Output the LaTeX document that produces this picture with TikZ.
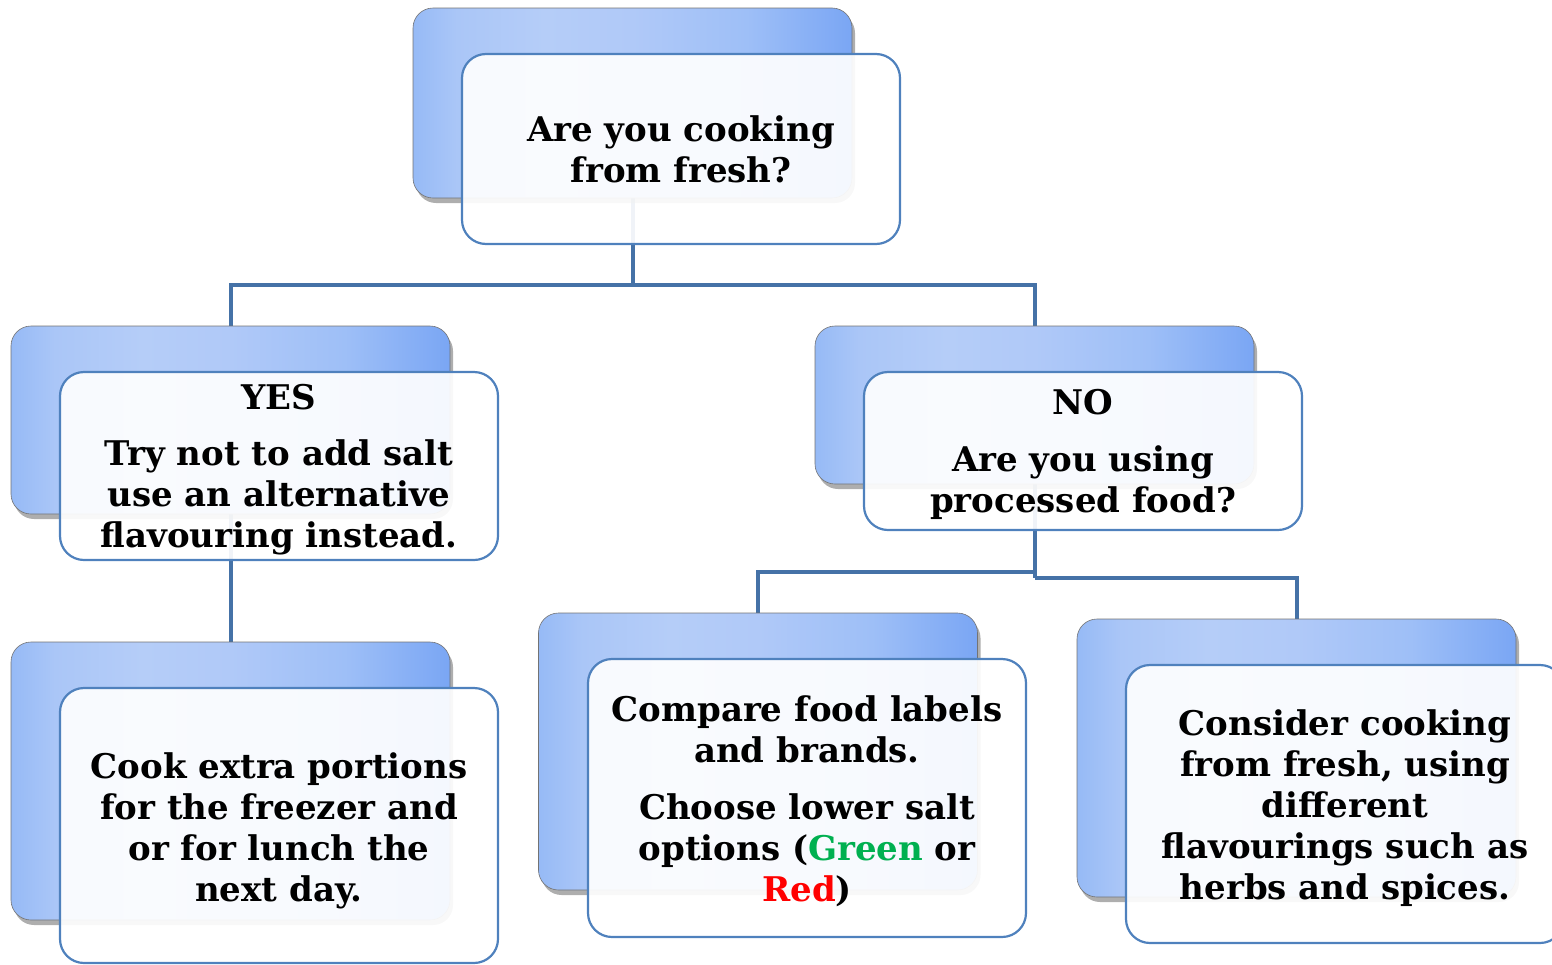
\documentclass[tikz,border=0pt]{standalone}
\usepackage{fontspec}
\setmainfont{DejaVu Serif}
\usetikzlibrary{shadows,backgrounds}
\definecolor{linec}{RGB}{69,114,167}
\definecolor{framec}{RGB}{79,129,189}
\definecolor{greenc}{RGB}{0,176,80}
\pgfdeclarehorizontalshading{backsh}{100bp}{%
  color(0bp)=(rgb,255:red,150;green,186;blue,246);
  color(25bp)=(rgb,255:red,150;green,186;blue,246);
  color(30bp)=(rgb,255:red,170;green,198;blue,247);
  color(40bp)=(rgb,255:red,181;green,205;blue,248);
  color(50bp)=(rgb,255:red,176;green,201;blue,248);
  color(63bp)=(rgb,255:red,158;green,191;blue,247);
  color(75bp)=(rgb,255:red,122;green,166;blue,244);
  color(100bp)=(rgb,255:red,122;green,166;blue,244)}
\newcommand{\tstrut}[1]{\rule{0pt}{#1}}
\begin{document}
\begin{tikzpicture}[x=1pt,y=-1pt,
  backbox/.style={rectangle, rounded corners=20pt, minimum width=439pt, inner sep=0pt,
    draw=black!55, line width=0.6pt, shading=backsh,
    drop shadow={shadow xshift=3pt, shadow yshift=-5pt, opacity=0.45, fill=black!70}},
  frontbox/.style={rectangle, rounded corners=24pt, minimum width=438pt, inner sep=0pt,
    draw=framec, line width=2.2pt, fill=white, fill opacity=0.92, text opacity=1,
    align=center, font=\bfseries\fontsize{34}{41}\selectfont},
  conn/.style={draw=linec, line width=4pt}]
\useasboundingbox (0,0) rectangle (1552,964);
\clip (0,0) rectangle (1552,964);
% back boxes
\node[backbox, minimum height=190pt] (topB) at (632.5,103) {};
\node[backbox, minimum height=188pt] (yesB) at (230.5,420) {};
\node[backbox, minimum height=278pt] (blB) at (230.5,781) {};
\node[backbox, minimum height=158pt] (noB) at (1034.5,405) {};
\node[backbox, minimum height=277pt] (mbB) at (758,751.5) {};
\node[backbox, minimum height=278pt] (rbB) at (1296.5,758) {};
% front boxes
\node[frontbox, minimum height=190pt] (topF) at (681,149) {Are you cooking\\from fresh?};
\node[frontbox, minimum height=188pt] (yesF) at (279,466) {\tstrut{32pt}YES\\[15pt]Try not to add salt\\use an alternative\\flavouring instead.};
\node[frontbox, minimum height=275pt] (blF) at (279,825.5) {\tstrut{36pt}Cook extra portions\\for the freezer and\\or for lunch the\\next day.};
\node[frontbox, minimum height=158pt] (noF) at (1083,451) {\tstrut{32pt}NO\\[16pt]Are you using\\processed food?};
\node[frontbox, minimum height=278pt] (mbF) at (807,798) {\tstrut{33pt}Compare food labels\\and brands.\\[16pt]Choose lower salt\\options ({\color{greenc}Green} or\\{\color{red}Red})};
\node[frontbox, minimum height=278pt] (rbF) at (1345,804) {\tstrut{34pt}Consider cooking\\from fresh, using\\different\\flavourings such as\\herbs and spices.};
% connectors
\coordinate (j1) at (632.5,285);
\coordinate (j2) at (1034.5,572);
\coordinate (j3) at (1034.5,578);
\begin{scope}[on background layer]
\draw[conn] (topB.south) -- (j1);
\draw[conn] (yesB.north) |- (j1) -| (noB.north);
\draw[conn] (yesB.south) -- (blB.north);
\draw[conn] (noB.south) -- (j3);
\draw[conn] (mbB.north) |- (j2);
\draw[conn] (j3) -| (rbB.north);
\end{scope}
\end{tikzpicture}
\end{document}
